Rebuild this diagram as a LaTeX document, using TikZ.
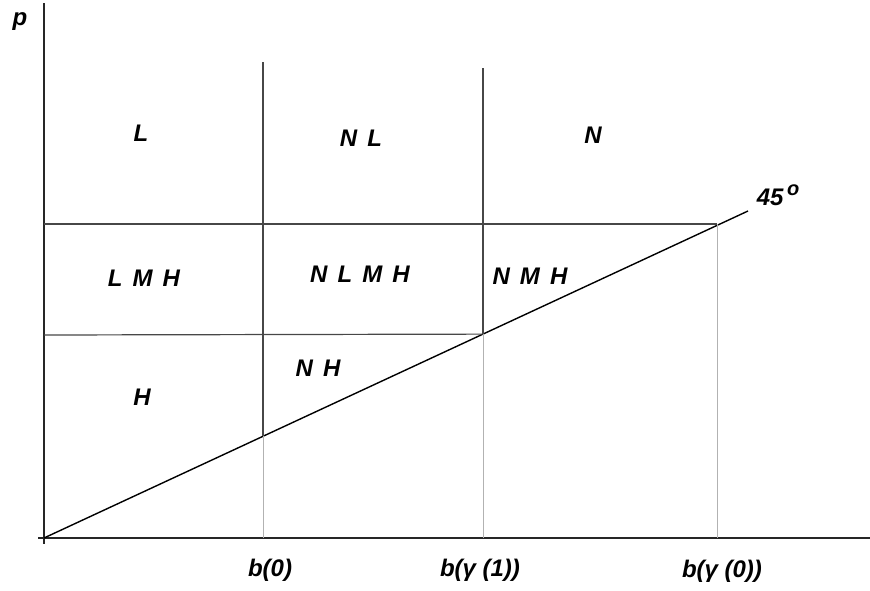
\documentclass[tikz,border=0pt]{standalone}
\usepackage{fontspec}
\setmainfont{Liberation Sans}
\usetikzlibrary{calc}
\newcommand{\gap}{\hspace{0.42em}}

\begin{document}
\begin{tikzpicture}[x=1pt, y=-1pt,
  lbl/.style={font=\fontsize{24}{28}\selectfont\bfseries\itshape, inner sep=0pt},
  axis/.style={line width=1.7pt, black!85},
  grid/.style={line width=1.2pt, black!72},
  faint/.style={line width=0.9pt, black!30},
  diag/.style={line width=1.4pt, black}
]
\useasboundingbox (0,0) rectangle (870,590);
% axes
\coordinate (o) at (44,538);
\coordinate (ytop) at (44,3);
\coordinate (ybot) at (44,544);
\coordinate (xlft) at (38,538);
\coordinate (xrgt) at (870,538);
\draw[axis] (ytop) -- (ybot);
\draw[axis] (xlft) -- (xrgt);
% 45 degree line
\coordinate (d) at (748,211);
\draw[diag] (o) -- (d);
% verticals at b(0), b(gamma(1)), b(gamma(0))
\coordinate (v1top) at (263,62);
\coordinate (v1bot) at (263,538);
\coordinate (v2top) at (483,68);
\coordinate (v2bot) at (483,538);
\coordinate (v3bot) at (717,538);
\coordinate (c1) at (intersection of v1top--v1bot and o--d);
\coordinate (c2) at (intersection of v2top--v2bot and o--d);
\coordinate (v3top) at (717,224);
\draw[grid] (v1top) -- (c1);
\draw[faint] (c1) -- (v1bot);
\draw[grid] (v2top) -- (c2);
\draw[faint] (c2) -- (v2bot);
\draw[faint] (v3top) -- (v3bot);
% horizontals
\coordinate (h1) at (44,224);
\coordinate (h2) at (44,335);
\draw[grid] (h1) -- (v3top);
\draw[grid] (h2) -- (c2);
% region labels
\node[lbl] (rL) at (141,133) {L};
\node[lbl] (rNL) at (361,138) {N\gap L};
\node[lbl] (rN) at (593,135) {N};
\node[lbl] (rLMH) at (144,278) {L\gap M\gap H};
\node[lbl] (rNLMH) at (360,274) {N\gap L\gap M\gap H};
\node[lbl] (rNMH) at (530,276) {N\gap M\gap H};
\node[lbl] (rNH) at (318,368) {N\gap H};
\node[lbl] (rH) at (142,397) {H};
% axis labels
\node[lbl] (lp) at (20,22) {p};
\node[lbl] (l45) at (778,195) {45\hspace{0.15em}\raisebox{0.4em}{\fontsize{20}{20}\selectfont o}};
\node[lbl] (lb0) at (270,570) {b(0)};
\node[lbl] (lbg1) at (480,570) {b(γ (1))};
\node[lbl] (lbg0) at (722,571) {b(γ (0))};
\end{tikzpicture}
\end{document}
